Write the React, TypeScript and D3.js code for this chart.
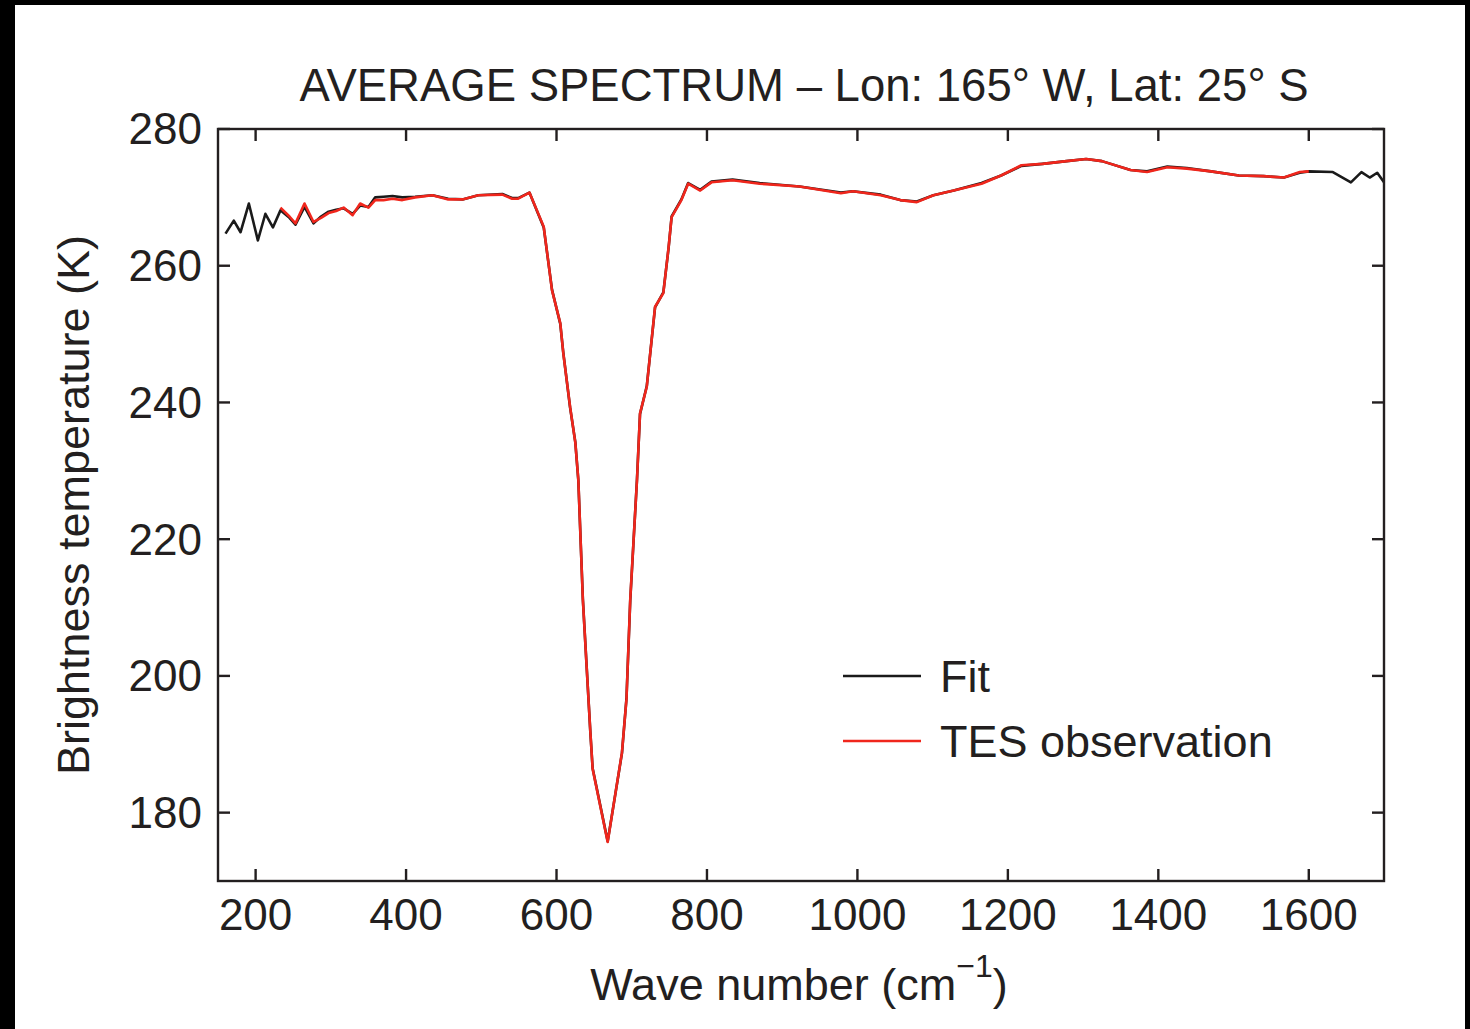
import React from "react";
import * as d3 from "d3";

// ---- Data ----
const fitWave = [
  160, 171, 180, 191, 203, 213, 223, 233, 245, 253, 265, 277, 287, 297, 307, 317, 329, 339, 350, 359,
  370, 382, 395, 412, 435, 456, 475, 496, 528, 541, 549, 564, 583, 594, 605, 609, 618, 625, 629, 635,
  640, 645, 648, 668, 687, 693, 698, 707, 711, 720, 731, 742, 749, 753, 766, 775, 791, 806, 834, 870,
  923, 978, 994, 1031, 1057, 1079, 1101, 1128, 1165, 1191, 1218, 1246, 1278, 1304, 1325, 1363, 1385,
  1412, 1438, 1470, 1507, 1540, 1567, 1588, 1600, 1632, 1656, 1670, 1681, 1691, 1700,
];
const fitTemp = [
  264.7, 266.6, 264.9, 269.1, 263.7, 267.6, 265.6, 268.1, 267.0, 266.0, 268.6, 266.2, 267.2, 267.9, 268.2, 268.4, 267.6, 268.8, 268.6, 270.0,
  270.1, 270.2, 270.0, 270.1, 270.3, 269.8, 269.7, 270.3, 270.5, 269.9, 269.9, 270.7, 265.6, 256.5, 251.5, 247.3, 239.3, 234.2, 228.6, 211.3,
  201.5, 191.7, 186.5, 175.8, 188.7, 196.7, 211.0, 228.8, 238.3, 242.4, 253.9, 256.1, 262.6, 267.2, 269.7, 272.1, 271.1, 272.3, 272.6, 272.1,
  271.6, 270.7, 270.9, 270.4, 269.6, 269.4, 270.3, 271.0, 272.1, 273.2, 274.6, 274.9, 275.3, 275.6, 275.3, 274.0, 273.8,
  274.5, 274.3, 273.8, 273.2, 273.1, 272.9, 273.6, 273.8, 273.7, 272.2, 273.7, 272.9, 273.6, 272.2,
];

const tesWave = [
  233, 245, 253, 265, 277, 287, 297, 307, 317, 329, 339, 350, 359, 370, 382, 395, 412, 435, 456, 475,
  496, 528, 541, 549, 564, 583, 594, 605, 609, 618, 625, 629, 635, 640, 645, 648, 668, 687, 693, 698,
  707, 711, 720, 731, 742, 749, 753, 766, 775, 791, 806, 834, 870, 923, 978, 994, 1031, 1057, 1079,
  1101, 1128, 1165, 1191, 1218, 1246, 1278, 1304, 1325, 1363, 1385, 1412, 1438, 1470, 1507, 1540,
  1567, 1588, 1600,
];
const tesTemp = [
  268.5, 267.2, 266.2, 269.1, 266.4, 267.0, 267.7, 268.0, 268.5, 267.4, 269.1, 268.5, 269.6, 269.6, 269.8, 269.6, 270.0, 270.3, 269.7, 269.7,
  270.3, 270.4, 269.8, 269.8, 270.7, 265.7, 256.4, 251.6, 247.2, 239.4, 234.1, 228.7, 211.2, 201.4, 191.8, 186.4, 175.7, 188.8, 196.6, 211.2,
  228.7, 238.4, 242.3, 254.0, 256.0, 262.7, 267.1, 269.6, 272.0, 271.0, 272.2, 272.5, 272.0, 271.6, 270.6, 270.9, 270.3, 269.6, 269.3,
  270.3, 271.0, 272.0, 273.2, 274.7, 274.9, 275.3, 275.6, 275.3, 274.0, 273.7, 274.4, 274.2, 273.8, 273.2, 273.1,
  272.9, 273.7, 273.8,
];

const xTicks = [200, 400, 600, 800, 1000, 1200, 1400, 1600];
const yTicks = [180, 200, 220, 240, 260, 280];
const legendLabels = ["Fit", "TES observation"];
const titleText = "AVERAGE SPECTRUM \u2013 Lon: 165\u00b0 W, Lat: 25\u00b0 S";

const W = 1470;
const H = 1029;
const FONT = "'Liberation Sans', Arial, Helvetica, sans-serif";
const INK = "#231f20";
const RED = "#f0261c";

export default function App() {
  const x = d3.scaleLinear().domain([150, 1700]).range([218, 1384]);
  const y = d3.scaleLinear().domain([170, 280]).range([881, 129]);
  const line = d3
    .line<[number, number]>()
    .x((d) => x(d[0]))
    .y((d) => y(d[1]));
  const fitPts = fitWave.map((w, i) => [w, fitTemp[i]] as [number, number]);
  const tesPts = tesWave.map((w, i) => [w, tesTemp[i]] as [number, number]);
  const [x0, x1] = x.range();
  const [yb, yt] = y.range();
  const tl = 12;

  return (
    <svg
      width={W}
      height={H}
      style={{ position: "absolute", left: 0, top: 0, display: "block" }}
      fontFamily={FONT}
    >
      <rect x={0} y={0} width={W} height={H} fill="#000" />
      <rect x={15} y={5} width={1450} height={1024} fill="#fff" />

      <text x={804} y={101} textAnchor="middle" fontSize={45.5} fill={INK}>
        {titleText}
      </text>

      <path d={line(fitPts) || ""} fill="none" stroke="#1a1a1a" strokeWidth={2.6} strokeLinejoin="round" />
      <path d={line(tesPts) || ""} fill="none" stroke={RED} strokeWidth={2.6} strokeLinejoin="round" />

      {/* frame */}
      <rect x={x0} y={yt} width={x1 - x0} height={yb - yt} fill="none" stroke={INK} strokeWidth={2.4} />

      {/* x ticks */}
      {xTicks.map((t) => (
        <g key={"x" + t}>
          <line x1={x(t)} x2={x(t)} y1={yb} y2={yb - tl} stroke={INK} strokeWidth={2.4} />
          <line x1={x(t)} x2={x(t)} y1={yt} y2={yt + tl} stroke={INK} strokeWidth={2.4} />
          <text x={x(t)} y={930} textAnchor="middle" fontSize={44} fill={INK}>
            {t}
          </text>
        </g>
      ))}

      {/* y ticks */}
      {yTicks.map((t) => (
        <g key={"y" + t}>
          <line x1={x0} x2={x0 + tl} y1={y(t)} y2={y(t)} stroke={INK} strokeWidth={2.4} />
          <line x1={x1} x2={x1 - tl} y1={y(t)} y2={y(t)} stroke={INK} strokeWidth={2.4} />
          <text x={202} y={y(t)} dy="0.35em" textAnchor="end" fontSize={44} fill={INK}>
            {t}
          </text>
        </g>
      ))}

      {/* axis labels */}
      <text
        transform={`translate(89, ${(yb + yt) / 2}) rotate(-90)`}
        textAnchor="middle"
        fontSize={45}
        fill={INK}
      >
        Brightness temperature (K)
      </text>
      <text x={799} y={1000} textAnchor="middle" fontSize={45} fill={INK}>
        Wave number (cm
        <tspan fontSize={32} dy={-23}>
          {"\u22121"}
        </tspan>
        <tspan dy={23}>)</tspan>
      </text>

      {/* legend */}
      <line x1={843} x2={921} y1={676} y2={676} stroke="#1a1a1a" strokeWidth={2.4} />
      <text x={940} y={692} fontSize={45} fill={INK}>
        {legendLabels[0]}
      </text>
      <line x1={843} x2={921} y1={741} y2={741} stroke={RED} strokeWidth={2.4} />
      <text x={940} y={757} fontSize={45} fill={INK}>
        {legendLabels[1]}
      </text>
    </svg>
  );
}
